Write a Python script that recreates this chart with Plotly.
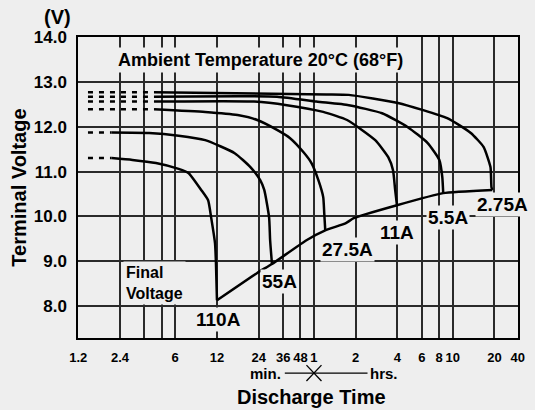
import math
import plotly.graph_objects as go

FONT = "Liberation Sans, Arial, Helvetica, sans-serif"
BG = "#eeeeee"
INK = "#000000"
GRID = "#2a2a2a"

# ---------------- data (minutes, volts) ----------------
currents = ["110A", "55A", "27.5A", "11A", "5.5A", "2.75A"]

dash_start_min = 1.41  # where the dashed initial-voltage stubs begin

t_110 = [2.09, 2.95, 4.36, 6.35, 7.47, 9.24, 10.36, 10.89, 11.62, 11.8, 12.0]
v_110 = [11.30, 11.26, 11.19, 11.06, 10.97, 10.59, 10.36, 9.98, 9.40, 8.96, 8.13]

t_55 = [2.09, 3.89, 6.35, 9.87, 16.1, 20.9, 24.6, 26.3, 28.5, 29.0, 29.9]
v_55 = [11.87, 11.86, 11.80, 11.70, 11.41, 11.10, 10.81, 10.59, 9.98, 9.47, 8.94]

t_275 = [4.22, 9.87, 16.9, 23.4, 32.5, 40.2, 50.5, 57.6, 64.6, 70.0, 71.2, 72.4]
v_275 = [12.39, 12.33, 12.26, 12.15, 11.93, 11.75, 11.43, 11.19, 10.81, 10.43, 10.07, 9.69]

t_11 = [4.22, 22.3, 38.3, 70.0, 104, 166, 206, 223, 231, 238]
v_11 = [12.56, 12.56, 12.48, 12.33, 12.15, 11.70, 11.32, 11.03, 10.59, 10.25]

t_55h = [4.22, 32.5, 62.4, 107, 186, 285, 395, 481, 505, 513]
v_55h = [12.67, 12.67, 12.56, 12.48, 12.30, 11.99, 11.64, 11.26, 10.88, 10.52]

t_2p75 = [4.22, 73.6, 107, 242, 548, 811, 1002, 1124, 1143, 1160]
v_2p75 = [12.77, 12.72, 12.71, 12.53, 12.19, 11.86, 11.55, 11.10, 10.65, 10.59]

t_final = [12.0, 23.4, 29.9, 53.0, 72.4, 102, 116, 238, 513, 1160]
v_final = [8.13, 8.74, 8.94, 9.47, 9.69, 9.85, 9.96, 10.25, 10.52, 10.59]

series_t = [t_110, t_55, t_275, t_11, t_55h, t_2p75]
series_v = [v_110, v_55, v_275, v_11, v_55h, v_2p75]

# x ticks (minutes) and labels
x_tickvals = [1.2, 2.4, 3.6, 4.8, 6, 12, 24, 36, 48, 60, 120, 240, 360, 480, 600, 1200, 1770]
x_ticktext = ["1.2", "2.4", "", "", "6", "12", "24", "36", "48", "1", "2", "4", "6", "8", "10", "20", "40"]
y_tickvals = [8, 9, 10, 11, 12, 13, 14]
y_ticktext = ["8.0", "9.0", "10.0", "11.0", "12.0", "13.0", "14.0"]

# label anchor positions (minutes, volts)
label_x = [12.4, 33.7, 105, 238, 557, 1372]
label_y = [7.71, 8.56, 9.27, 9.65, 9.98, 10.27]

# ---------------- figure ----------------
fig = go.Figure()

for t, v in zip(series_t, series_v):
    fig.add_trace(go.Scatter(
        x=[dash_start_min, t[0]], y=[v[0], v[0]], mode="lines",
        line=dict(color=INK, width=2.5, dash="5px,6px"),
        hoverinfo="skip", showlegend=False))
    fig.add_trace(go.Scatter(
        x=t, y=v, mode="lines",
        line=dict(color=INK, width=2.5, shape="spline", smoothing=0.5),
        showlegend=False))

fig.add_trace(go.Scatter(
    x=t_final, y=v_final, mode="lines",
    line=dict(color=INK, width=2.5, shape="spline", smoothing=0.4),
    showlegend=False))

bold = dict(family=FONT, color=INK, weight="bold")

for name, lx, ly in zip(currents, label_x, label_y):
    fig.add_annotation(x=math.log10(lx), y=ly, text=name, showarrow=False,
                       xanchor="center", yanchor="middle",
                       font=dict(size=19, **bold), bgcolor=BG, borderpad=1)

fig.add_annotation(x=math.log10(24.6), y=13.49,
                   text="Ambient Temperature 20°C (68°F)", showarrow=False,
                   xanchor="center", yanchor="middle",
                   font=dict(size=18, **bold), bgcolor=BG, borderpad=2)

fig.add_annotation(x=math.log10(2.54), y=8.52, xanchor="left", yanchor="middle",
                   text="Final<br>Voltage", align="left", showarrow=False,
                   font=dict(size=16, **bold), bgcolor=BG, borderpad=2)

# outside-the-plot texts
fig.add_annotation(xref="paper", yref="paper", x=-0.011, y=1.066,
                   xanchor="right", yanchor="middle",
                   text="(V)", showarrow=False, font=dict(size=20, **bold))
fig.add_annotation(xref="paper", yref="paper", x=-0.136, y=0.5, textangle=-90,
                   xanchor="center", yanchor="middle",
                   text="Terminal Voltage", showarrow=False, font=dict(size=20, **bold))
fig.add_annotation(xref="paper", yref="paper", x=0.53, y=-0.196,
                   xanchor="center", yanchor="middle",
                   text="Discharge Time", showarrow=False, font=dict(size=20, **bold))
fig.add_annotation(xref="x", yref="paper", x=math.log10(36), y=-0.119,
                   xanchor="right", yanchor="middle",
                   text="min.", showarrow=False, font=dict(size=15, **bold))
fig.add_annotation(xref="x", yref="paper", x=math.log10(146), y=-0.119,
                   xanchor="left", yanchor="middle",
                   text="hrs.", showarrow=False, font=dict(size=15, **bold))

# min. ---X--- hrs. connector (shape coords on a log axis are raw minutes)
fig.add_shape(type="line", xref="x", yref="paper", x0=37, x1=146,
              y0=-0.117, y1=-0.117, line=dict(color=INK, width=1.3))
fig.add_shape(type="line", xref="x", yref="paper", x0=53, x1=68,
              y0=-0.09, y1=-0.143, line=dict(color=INK, width=1.3))
fig.add_shape(type="line", xref="x", yref="paper", x0=53, x1=68,
              y0=-0.143, y1=-0.09, line=dict(color=INK, width=1.3))

fig.update_xaxes(
    type="log", range=[math.log10(1.195), math.log10(1775)],
    tickmode="array", tickvals=x_tickvals, ticktext=x_ticktext, tickangle=0,
    showgrid=True, gridcolor=GRID, gridwidth=1.5,
    showline=True, linecolor=INK, linewidth=1.5, mirror=True,
    ticks="", ticklabelstandoff=7, zeroline=False,
    tickfont=dict(size=13, **bold))
fig.update_yaxes(
    range=[7.29, 14.0], tickmode="array", tickvals=y_tickvals, ticktext=y_ticktext,
    showgrid=True, gridcolor=GRID, gridwidth=1.5,
    showline=True, linecolor=INK, linewidth=1.5, mirror=True,
    ticks="", ticklabelstandoff=6, zeroline=False,
    tickfont=dict(size=17, **bold))

fig.update_layout(
    width=535, height=410,
    margin=dict(l=78, r=10, t=37, b=72),
    paper_bgcolor=BG, plot_bgcolor=BG,
    showlegend=False,
    font=dict(family=FONT, color=INK),
)

fig.write_html("out.html", config={"displayModeBar": False},
               post_script="document.body.style.margin='0';document.body.style.background='#eeeeee';")
